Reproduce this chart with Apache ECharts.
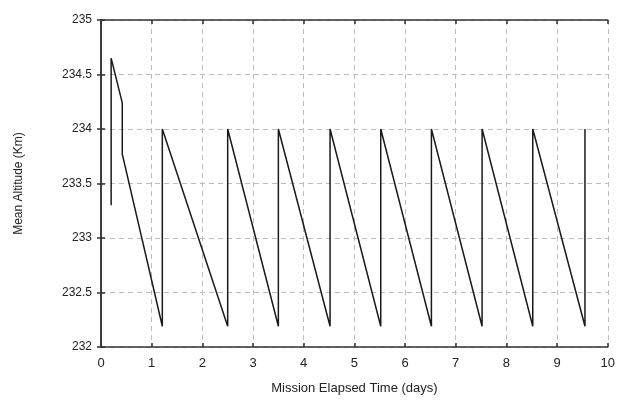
<!DOCTYPE html>
<html><head><meta charset="utf-8">
<script src="https://cdn.jsdelivr.net/npm/echarts@6/dist/echarts.min.js"></script>
<style>html,body{margin:0;padding:0;background:#fff}#c{width:618px;height:400px}</style>
</head><body><div id="c"></div>
<script>
var times = [0.20, 0.20, 0.42, 0.42, 1.21, 1.21, 2.50, 2.50, 3.50, 3.50, 4.52, 4.52, 5.52, 5.52, 6.52, 6.52, 7.52, 7.52, 8.52, 8.52, 9.55, 9.55];
var altitudes = [233.30, 234.65, 234.24, 233.77, 232.19, 234.0, 232.19, 234.0, 232.19, 234.0, 232.19, 234.0, 232.19, 234.0, 232.19, 234.0, 232.19, 234.0, 232.19, 234.0, 232.19, 234.0];
var xTicks = [0,1,2,3,4,5,6,7,8,9,10];
var yTicks = [232, 232.5, 233, 233.5, 234, 234.5, 235];
var xName = 'Mission Elapsed Time (days)';
var yName = 'Mean Altitude (Km)';

var data = times.map(function(t,i){return [t, altitudes[i]];});
var font = 'Liberation Sans, Arial, sans-serif';
var gridLine = {show:true, lineStyle:{color:'#bdbdbd', type:[5,4], width:1}};
var axisLine = {show:true, lineStyle:{color:'#333', width:1.5}};
var tick = {show:true, inside:true, length:4, lineStyle:{color:'#333', width:1.5}};
var chart = echarts.init(document.getElementById('c'), null, {renderer:'canvas'});
chart.setOption({
  animation:false,
  backgroundColor:'#fff',
  grid:{left:101, right:6, top:20, bottom:51},
  xAxis:[{
    type:'value', min:xTicks[0], max:xTicks[xTicks.length-1], interval:1,
    name:xName, nameLocation:'middle', nameGap:35,
    nameTextStyle:{fontFamily:font, fontSize:13, color:'#222'},
    axisLine:axisLine, axisTick:tick, splitLine:gridLine,
    axisLabel:{fontFamily:font, fontSize:13, color:'#222', margin:10}
  },{
    type:'value', position:'top', min:xTicks[0], max:xTicks[xTicks.length-1], interval:1,
    axisLine:axisLine, axisTick:tick, splitLine:{show:false}, axisLabel:{show:false}
  }],
  yAxis:[{
    type:'value', min:yTicks[0], max:yTicks[yTicks.length-1], interval:0.5,
    name:yName, nameLocation:'middle', nameGap:76,
    nameTextStyle:{fontFamily:font, fontSize:12, color:'#222'},
    axisLine:axisLine, axisTick:tick, splitLine:gridLine,
    axisLabel:{fontFamily:font, fontSize:12, color:'#222', margin:9}
  },{
    type:'value', position:'right', min:yTicks[0], max:yTicks[yTicks.length-1], interval:0.5,
    axisLine:axisLine, axisTick:tick, splitLine:{show:false}, axisLabel:{show:false}
  }],
  series:[{
    type:'line', data:data, symbol:'none',
    lineStyle:{color:'#1a1a1a', width:1.5}
  }]
});
</script></body></html>
